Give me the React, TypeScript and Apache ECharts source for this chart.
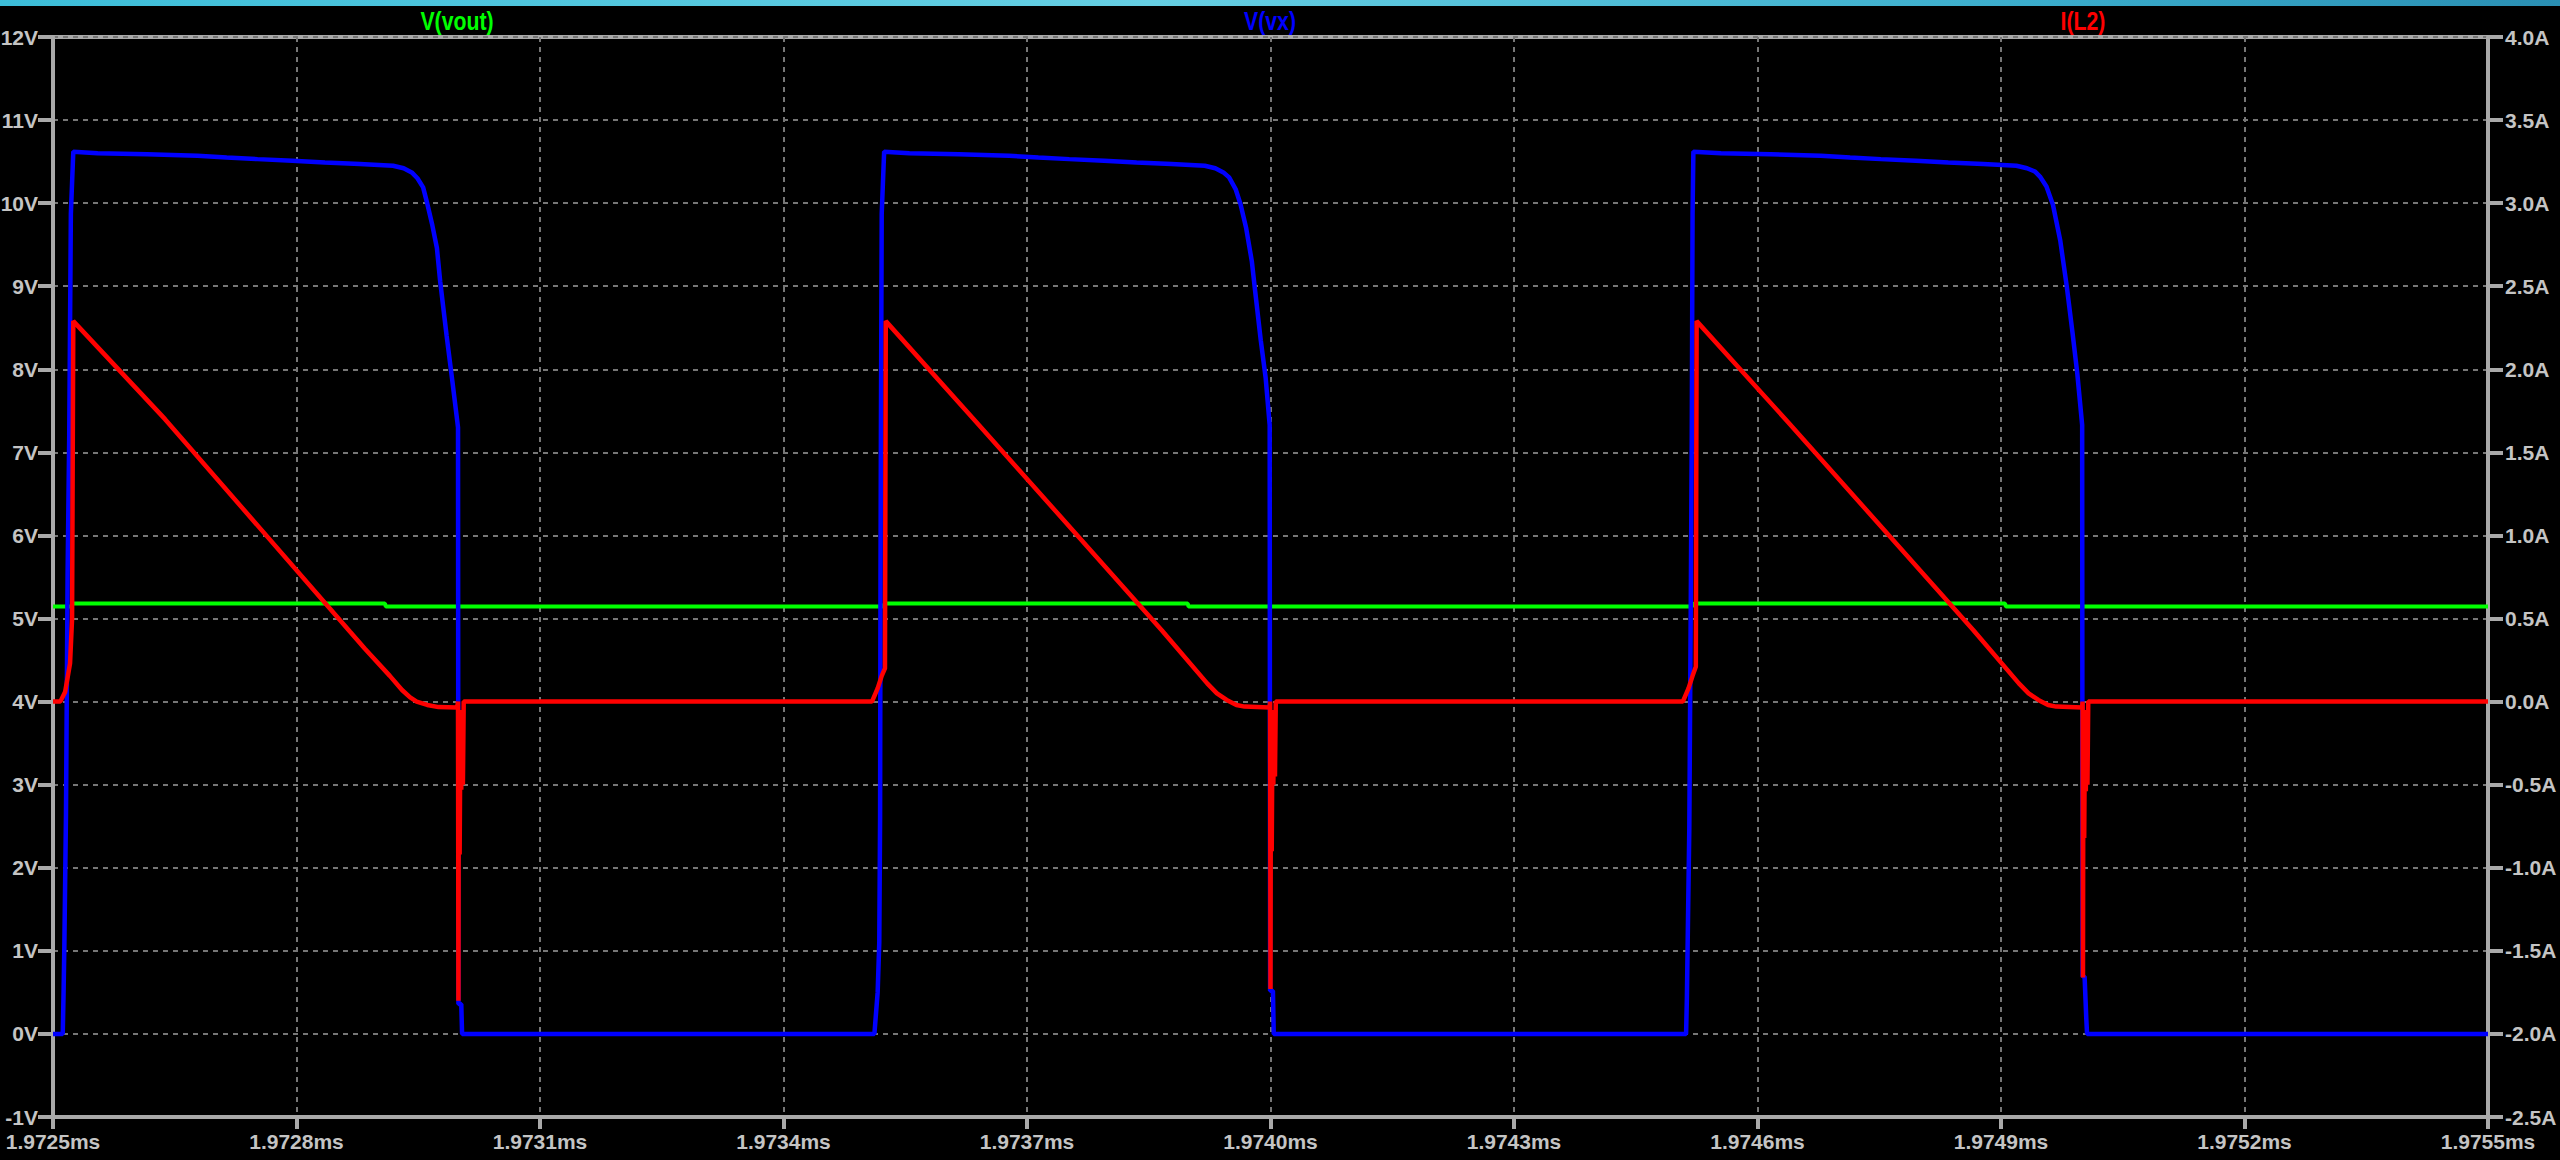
import React, { useEffect, useRef } from "react";
import * as echarts from "echarts";

// Time window: 1.9725 ms .. 1.9755 ms, x values are ns after T0_NS
const T0_NS = 1972500;
const SPAN_NS = 3000;
const X_STEP_NS = 300;

// Left axis (volts) and right axis (amps)
const V_MIN = -1;
const V_MAX = 12;
const V_STEP = 1;
const A_MIN = -2.5;
const A_MAX = 4;
const A_STEP = 0.5;

// Trace names shown above the plot
const traceNames = ["V(vout)", "V(vx)", "I(L2)"];
const traceColors = ["#00ff00", "#0000ff", "#ff0000"];
const traceNameX = [457, 1270, 2083];

// V(vout) [ns, V]
const vout: [number, number][] = [
  [0, 5.145], [22, 5.145], [25, 5.18], [409, 5.18], [410, 5.145],
  [1022, 5.145], [1025, 5.18], [1398, 5.18], [1399, 5.145],
  [2019, 5.145], [2022, 5.18], [2405, 5.18], [2406, 5.145],
  [3000, 5.145],
];

// V(vx) switch node [ns, V]
const vx: [number, number][] = [
  [0, 0], [12, 0], [13, 0.48], [14, 1.07], [16, 2.65], [18, 5.55], [20, 7.2], [22, 9.87], [25, 10.62],
  [55, 10.6], [116, 10.59], [178, 10.57], [214, 10.55], [252, 10.53], [295, 10.51], [335, 10.49],
  [378, 10.47], [419, 10.45], [432, 10.42], [442, 10.37], [449, 10.3], [456, 10.19], [461, 10.0],
  [467, 9.75], [473, 9.46], [477, 9.06], [485, 8.4], [492, 7.86], [498, 7.38], [499, 7.3],
  [499.5, 0.36], [503, 0.36], [504, 0],

  [1012, 0], [1016, 0.5], [1018, 1.1], [1019, 2.6], [1019.5, 5.5], [1020, 7.2], [1021, 9.87], [1024, 10.62],
  [1055, 10.6], [1116, 10.59], [1178, 10.57], [1214, 10.55], [1252, 10.53], [1295, 10.51], [1335, 10.49],
  [1378, 10.47], [1419, 10.45], [1432, 10.42], [1442, 10.37], [1449, 10.31], [1457, 10.17], [1463, 9.99],
  [1470, 9.7], [1477, 9.3], [1481, 8.95], [1488, 8.35], [1494, 7.9], [1499, 7.33],
  [1499.5, 0.52], [1503, 0.52], [1504, 0],

  [2012, 0], [2013, 0.43], [2014, 1.12], [2016, 2.48], [2018, 5.5], [2019, 7.2], [2020, 9.87], [2021, 10.62],
  [2055, 10.6], [2116, 10.59], [2178, 10.57], [2214, 10.55], [2252, 10.53], [2295, 10.51], [2335, 10.49],
  [2378, 10.47], [2419, 10.45], [2432, 10.42], [2442, 10.38], [2448, 10.32], [2456, 10.2], [2464, 9.98],
  [2473, 9.55], [2481, 9.0], [2488, 8.45], [2494, 7.95], [2500, 7.33],
  [2500.5, 0.69], [2503, 0.69], [2505, 0.2], [2506, 0],
  [3000, 0],
];

// I(L2) inductor current [ns, A]; the switch-off ringing is a burst of short negative spikes
const iL2: [number, number][] = [
  [0, 0], [9, 0], [15, 0.06], [21, 0.23], [23.5, 0.5], [25, 2.29],
  [138, 1.7], [366, 0.42], [384, 0.32], [415, 0.155], [430, 0.07], [440, 0.025], [448, 0.0],
  [461, -0.02], [475, -0.033], [498, -0.035],
  [499, 0], [499.5, -1.8], [500, -0.1], [501, -0.92], [502, -0.1], [503, -0.53], [504, -0.05], [505, -0.5], [506, 0],

  [1009, 0], [1016, 0.08], [1021, 0.155], [1025, 0.2], [1026, 2.29],
  [1138, 1.68], [1366, 0.43], [1422, 0.11], [1434, 0.05], [1446, 0.01],
  [1458, -0.02], [1468, -0.03], [1499, -0.035],
  [1499.5, 0], [1500, -1.73], [1500.5, -0.1], [1501.5, -0.9], [1502.5, -0.1], [1503.5, -0.5], [1504.5, -0.05], [1505.5, -0.45], [1506.5, 0],

  [2008, 0], [2015, 0.08], [2020, 0.155], [2024, 0.21], [2025, 2.29],
  [2138, 1.68], [2366, 0.43], [2422, 0.11], [2434, 0.05], [2446, 0.01],
  [2458, -0.02], [2468, -0.03], [2500, -0.035],
  [2500.5, 0], [2501, -1.66], [2501.5, -0.1], [2502.5, -0.82], [2503.5, -0.1], [2504.5, -0.54], [2505.5, -0.05], [2506.5, -0.5], [2507.5, 0],
  [3000, 0],
];

const AXIS_GRAY = "#a9a9a9";
const GRID_GRAY = "#767676";
const FONT_FAMILY = "'Liberation Sans', Arial, sans-serif";

const labelStyle = {
  color: "#c4c4c4",
  fontFamily: FONT_FAMILY,
  fontSize: 21,
  fontWeight: "bold" as const,
};

const axisLine = { show: true, onZero: false, lineStyle: { color: AXIS_GRAY, width: 4 } };
const dashed = { show: true, lineStyle: { color: GRID_GRAY, width: 2, type: [5, 5] } };

export default function App() {
  const ref = useRef<HTMLDivElement>(null);

  useEffect(() => {
    if (!ref.current) return;
    const chart = echarts.init(ref.current, undefined, { renderer: "svg" });

    const topBar = new echarts.graphic.LinearGradient(0, 0, 1, 0, [
      { offset: 0, color: "#3cbdd8" },
      { offset: 0.45, color: "#66cfe3" },
      { offset: 0.8, color: "#3aaccb" },
      { offset: 1, color: "#2a8fb3" },
    ]);

    chart.setOption({
      animation: false,
      backgroundColor: "#000000",
      grid: {
        left: 53,
        right: 72,
        top: 37,
        bottom: 43,
        outerBoundsMode: "none",
        containLabel: false,
        show: true,
        borderColor: AXIS_GRAY,
        borderWidth: 4,
        backgroundColor: "transparent",
      },
      xAxis: {
        type: "value",
        min: 0,
        max: SPAN_NS,
        interval: X_STEP_NS,
        axisLine,
        axisTick: { show: true, length: 12, lineStyle: { color: AXIS_GRAY, width: 4 } },
        axisLabel: {
          ...labelStyle,
          margin: 14,
          formatter: (v: number) => ((T0_NS + v) / 1e6).toFixed(4) + "ms",
        },
        splitLine: dashed,
      },
      yAxis: [
        {
          type: "value",
          position: "left",
          min: V_MIN,
          max: V_MAX,
          interval: V_STEP,
          axisLine,
          axisTick: { show: true, length: 15, lineStyle: { color: AXIS_GRAY, width: 4 } },
          axisLabel: { ...labelStyle, margin: 15, formatter: (v: number) => `${v}V` },
          splitLine: dashed,
        },
        {
          type: "value",
          position: "right",
          min: A_MIN,
          max: A_MAX,
          interval: A_STEP,
          axisLine,
          axisTick: { show: true, length: 15, lineStyle: { color: AXIS_GRAY, width: 4 } },
          axisLabel: { ...labelStyle, margin: 17, formatter: (v: number) => `${v.toFixed(1)}A` },
          splitLine: { show: false },
        },
      ],
      graphic: [
        { type: "rect", shape: { x: 0, y: 0, width: 2560, height: 6 }, style: { fill: topBar }, silent: true },
        ...traceNames.map((name, i) => ({
          type: "text",
          x: traceNameX[i],
          y: 21,
          scaleX: 0.85,
          silent: true,
          style: {
            text: name,
            fill: traceColors[i],
            fontFamily: FONT_FAMILY,
            fontSize: 25,
            fontWeight: "bold",
            align: "center",
            verticalAlign: "middle",
          },
        })),
      ],
      series: [
        {
          name: traceNames[0],
          type: "line",
          yAxisIndex: 0,
          data: vout,
          showSymbol: false,
          silent: true,
          lineStyle: { color: traceColors[0], width: 4 },
          z: 2,
        },
        {
          name: traceNames[1],
          type: "line",
          yAxisIndex: 0,
          data: vx,
          showSymbol: false,
          silent: true,
          lineStyle: { color: traceColors[1], width: 4.5 },
          z: 3,
        },
        {
          name: traceNames[2],
          type: "line",
          yAxisIndex: 1,
          data: iL2,
          showSymbol: false,
          silent: true,
          lineStyle: { color: traceColors[2], width: 4.5 },
          z: 4,
        },
      ],
    });

    return () => chart.dispose();
  }, []);

  return (
    <div
      ref={ref}
      style={{ position: "fixed", left: 0, top: 0, width: 2560, height: 1160, background: "#000" }}
    />
  );
}
